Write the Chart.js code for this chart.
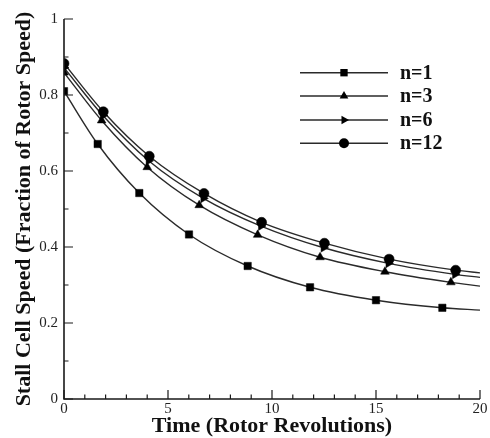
<!DOCTYPE html>
<html>
<head>
<meta charset="utf-8">
<script src="https://cdn.jsdelivr.net/npm/chart.js@4"></script>
<style>
html,body{margin:0;padding:0;background:#fff;}
#wrap{width:490px;height:438px;position:relative;}
</style>
</head>
<body>
<div id="wrap"><canvas id="c" width="490" height="438"></canvas></div>
<script>
// ---- data ----
const seriesNames = ['n=1', 'n=3', 'n=6', 'n=12'];
const xTicks = [0, 5, 10, 15, 20];
const yTicks = [0, 0.2, 0.4, 0.6, 0.8, 1];

// marker positions (time, speed)
const n1MarkX = [0, 1.62, 3.62, 6.01, 8.83, 11.83, 15.0, 18.19];
const n1MarkY = [0.81, 0.671, 0.542, 0.433, 0.35, 0.294, 0.26, 0.240];
const n3MarkX = [0, 1.81, 4.0, 6.5, 9.31, 12.31, 15.43, 18.6];
const n3MarkY = [0.859, 0.733, 0.61, 0.51, 0.432, 0.373, 0.335, 0.307];
const n6MarkX = [0, 1.87, 4.07, 6.7, 9.47, 12.48, 15.6, 18.8];
const n6MarkY = [0.872, 0.746, 0.627, 0.528, 0.455, 0.398, 0.357, 0.328];
const n12MarkX = [0, 1.89, 4.1, 6.73, 9.5, 12.52, 15.63, 18.83];
const n12MarkY = [0.883, 0.756, 0.639, 0.541, 0.465, 0.41, 0.368, 0.339];

// smooth curve values (markers plus end of line at t=20)
const n1CurveX = [0, 1.62, 3.62, 6.01, 8.83, 11.83, 15.0, 18.19, 20];
const n1CurveY = [0.81, 0.671, 0.542, 0.433, 0.35, 0.294, 0.26, 0.240, 0.234];
const n3CurveX = [0, 1.81, 4.0, 6.5, 9.31, 12.31, 15.43, 18.6, 20];
const n3CurveY = [0.859, 0.733, 0.61, 0.51, 0.432, 0.373, 0.335, 0.307, 0.297];
const n6CurveX = [0, 1.87, 4.07, 6.7, 9.47, 12.48, 15.6, 18.8, 20];
const n6CurveY = [0.872, 0.746, 0.627, 0.528, 0.455, 0.398, 0.357, 0.328, 0.320];
const n12CurveX = [0, 1.89, 4.1, 6.73, 9.5, 12.52, 15.63, 18.83, 20];
const n12CurveY = [0.883, 0.756, 0.639, 0.541, 0.465, 0.41, 0.368, 0.339, 0.332];

const zip = (xs, ys) => xs.map((x, i) => ({x: x, y: ys[i]}));

const markerDefs = [
  {name: seriesNames[0], style: 'rect', rot: 0, r: 5.2, mx: n1MarkX, my: n1MarkY, cx: n1CurveX, cy: n1CurveY},
  {name: seriesNames[1], style: 'triangle', rot: 0, r: 5, mx: n3MarkX, my: n3MarkY, cx: n3CurveX, cy: n3CurveY},
  {name: seriesNames[2], style: 'triangle', rot: 90, r: 5, mx: n6MarkX, my: n6MarkY, cx: n6CurveX, cy: n6CurveY},
  {name: seriesNames[3], style: 'circle', rot: 0, r: 5, mx: n12MarkX, my: n12MarkY, cx: n12CurveX, cy: n12CurveY}
];

const datasets = [];
markerDefs.forEach(d => {
  datasets.push({
    label: d.name + ' curve', data: zip(d.cx, d.cy), showLine: true,
    borderColor: '#2a2a2a', borderWidth: 1.4, pointRadius: 0,
    cubicInterpolationMode: 'monotone', fill: false, order: 10
  });
});
markerDefs.forEach(d => {
  datasets.push({
    label: d.name, data: zip(d.mx, d.my), showLine: false,
    pointStyle: d.style, pointRotation: d.rot, pointRadius: d.r,
    pointBackgroundColor: '#000', pointBorderColor: '#000', pointBorderWidth: 0.5,
    order: 1
  });
});

const serif = "'Liberation Serif', 'DejaVu Serif', serif";

function drawMarker(ctx, style, rot, r, x, y) {
  ctx.save();
  ctx.translate(x, y);
  ctx.rotate(rot * Math.PI / 180);
  ctx.beginPath();
  if (style === 'rect') {
    const s = Math.SQRT1_2 * r;
    ctx.rect(-s, -s, 2 * s, 2 * s);
  } else if (style === 'triangle') {
    for (let k = 0; k < 3; k++) {
      const a = -Math.PI / 2 + k * 2 * Math.PI / 3;
      const px = Math.cos(a) * r, py = Math.sin(a) * r;
      if (k === 0) ctx.moveTo(px, py); else ctx.lineTo(px, py);
    }
    ctx.closePath();
  } else {
    ctx.arc(0, 0, r, 0, Math.PI * 2);
  }
  ctx.fillStyle = '#000';
  ctx.fill();
  ctx.restore();
}

const axesPlugin = {
  id: 'axesTicks',
  afterDraw(chart) {
    const ctx = chart.ctx;
    const xs = chart.scales.x, ys = chart.scales.y;
    const x0 = xs.getPixelForValue(0), x1 = xs.getPixelForValue(20);
    const y0 = ys.getPixelForValue(0), y1 = ys.getPixelForValue(1);
    ctx.save();
    ctx.strokeStyle = '#1a1a1a';
    ctx.lineWidth = 1.6;
    ctx.beginPath();
    ctx.moveTo(x0, y1); ctx.lineTo(x0, y0); ctx.lineTo(x1, y0);
    ctx.stroke();
    ctx.lineWidth = 1.2;
    ctx.beginPath();
    for (let v = 0; v <= 20; v += 1) {
      const px = xs.getPixelForValue(v);
      const len = (v % 5 === 0) ? 9 : 4.5;
      ctx.moveTo(px, y0); ctx.lineTo(px, y0 - len);
    }
    for (let k = 0; k <= 10; k++) {
      const v = k / 10;
      const py = ys.getPixelForValue(v);
      const len = (k % 2 === 0) ? 9 : 4.5;
      ctx.moveTo(x0, py); ctx.lineTo(x0 + len, py);
    }
    ctx.stroke();

    // legend
    const rows = [72.7, 96, 120, 143.3];
    ctx.font = "bold 20px " + serif;
    ctx.textBaseline = 'middle';
    ctx.textAlign = 'left';
    markerDefs.forEach((d, i) => {
      const y = rows[i];
      ctx.strokeStyle = '#2a2a2a';
      ctx.lineWidth = 1.4;
      ctx.beginPath(); ctx.moveTo(300, y); ctx.lineTo(388, y); ctx.stroke();
      drawMarker(ctx, d.style, d.rot, d.r, 344, y);
      ctx.fillStyle = '#111';
      ctx.fillText(d.name, 400, y + 1);
    });
    ctx.restore();
  }
};

new Chart(document.getElementById('c'), {
  type: 'scatter',
  data: {datasets: datasets},
  options: {
    responsive: false,
    animation: false,
    events: [],
    layout: {padding: {top: 19, right: 10, left: 0, bottom: 0}},
    plugins: {legend: {display: false}, tooltip: {enabled: false}, title: {display: false}},
    scales: {
      x: {
        type: 'linear', min: 0, max: 20,
        afterBuildTicks: s => { s.ticks = xTicks.map(v => ({value: v})); },
        afterFit: s => { s.height = 39; },
        grid: {display: false, drawTicks: false},
        border: {display: false},
        ticks: {padding: 1, color: '#222', font: {family: serif, size: 15}, maxRotation: 0, autoSkip: false,
                callback: v => String(v)},
        title: {display: true, text: 'Time (Rotor Revolutions)', color: '#111',
                font: {family: serif, size: 22, weight: 'bold', lineHeight: 1}, padding: {top: 0, bottom: 1}}
      },
      y: {
        type: 'linear', min: 0, max: 1,
        afterBuildTicks: s => { s.ticks = yTicks.map(v => ({value: v})); },
        afterFit: s => { s.width = 64; },
        grid: {display: false, drawTicks: false},
        border: {display: false},
        ticks: {padding: 6, color: '#222', font: {family: serif, size: 15}, autoSkip: false,
                callback: v => String(v)},
        title: {display: true, text: 'Stall Cell Speed (Fraction of Rotor Speed)', color: '#111',
                font: {family: serif, size: 22, weight: 'bold', lineHeight: 1}, padding: {top: 13, bottom: 0}}
      }
    }
  },
  plugins: [axesPlugin]
});
</script>
</body>
</html>
